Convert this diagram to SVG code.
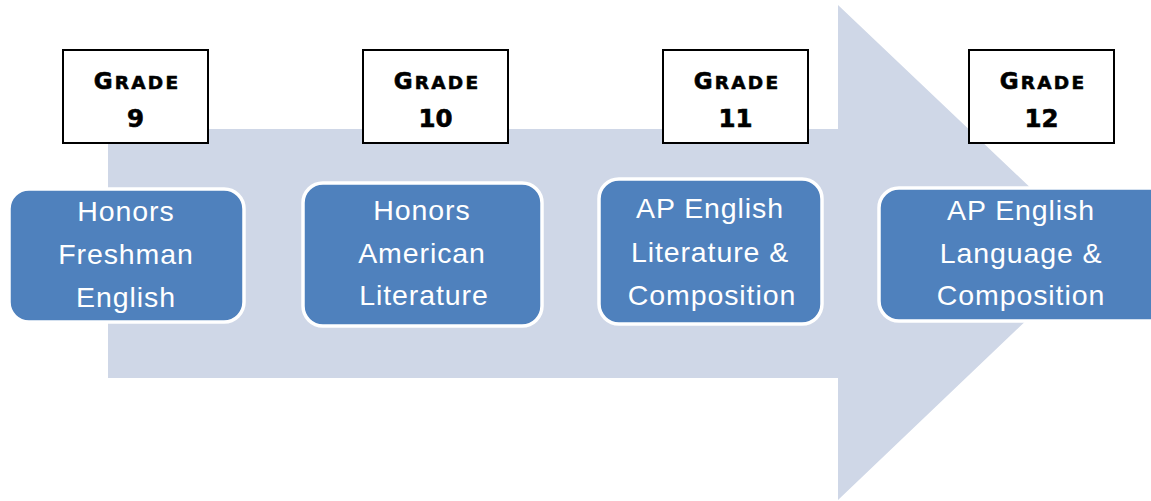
<svg xmlns="http://www.w3.org/2000/svg" width="1151" height="501" viewBox="0 0 1151 501">
<style>
.grade{fill:#ffffff;stroke:#000000;stroke-width:2}
.gt{font-family:"DejaVu Sans","Liberation Sans",Arial,sans-serif;font-weight:bold;fill:#000000;text-anchor:middle;stroke:#000000;stroke-width:0.6}
.gl{letter-spacing:2.2px}
.course{fill:#4f81bd;stroke:#ffffff;stroke-width:3.5}
.ct{font-family:"Liberation Sans",Arial,sans-serif;font-size:28.5px;letter-spacing:0.9px;fill:#ffffff;text-anchor:middle}
</style>
<rect width="1151" height="501" fill="#ffffff"/>
<g id="arrow">
<polygon points="108,129 838,129 838,5 1098,252 838,500 838,378 108,378" fill="#cfd7e7"/>
</g>
<g id="connectors"></g>
<g id="grade9">
<rect class="grade" x="63" y="50" width="145" height="93"/>
<text class="gt gl" x="137" y="89"><tspan font-size="23">G</tspan><tspan font-size="18.5">RADE</tspan></text>
<text class="gt" x="135.5" y="127" font-size="24.5">9</text>
</g>
<g id="grade10">
<rect class="grade" x="363" y="50" width="145" height="93"/>
<text class="gt gl" x="437" y="89"><tspan font-size="23">G</tspan><tspan font-size="18.5">RADE</tspan></text>
<text class="gt" x="435.5" y="127" font-size="24.5">10</text>
</g>
<g id="grade11">
<rect class="grade" x="663" y="50" width="145" height="93"/>
<text class="gt gl" x="737" y="89"><tspan font-size="23">G</tspan><tspan font-size="18.5">RADE</tspan></text>
<text class="gt" x="735.5" y="127" font-size="24.5">11</text>
</g>
<g id="grade12">
<rect class="grade" x="969" y="50" width="145" height="93"/>
<text class="gt gl" x="1043" y="89"><tspan font-size="23">G</tspan><tspan font-size="18.5">RADE</tspan></text>
<text class="gt" x="1041.5" y="127" font-size="24.5">12</text>
</g>
<g id="course9">
<rect class="course" x="9" y="189" width="235" height="133" rx="20"/>
<text class="ct" x="126" y="221">Honors</text>
<text class="ct" x="126" y="264">Freshman</text>
<text class="ct" x="126" y="307">English</text>
</g>
<g id="course10">
<rect class="course" x="303" y="183" width="239" height="143" rx="20"/>
<text class="ct" x="422" y="220">Honors</text>
<text class="ct" x="422" y="263">American</text>
<text class="ct" x="424" y="305">Literature</text>
</g>
<g id="course11">
<rect class="course" x="599" y="179" width="223" height="145" rx="20"/>
<text class="ct" x="710" y="218">AP English</text>
<text class="ct" x="710" y="262">Literature &amp;</text>
<text class="ct" x="712" y="305">Composition</text>
</g>
<g id="course12">
<rect class="course" x="879" y="188" width="290" height="133" rx="20"/>
<text class="ct" x="1021" y="220">AP English</text>
<text class="ct" x="1021" y="263">Language &amp;</text>
<text class="ct" x="1021" y="305">Composition</text>
</g>
</svg>
